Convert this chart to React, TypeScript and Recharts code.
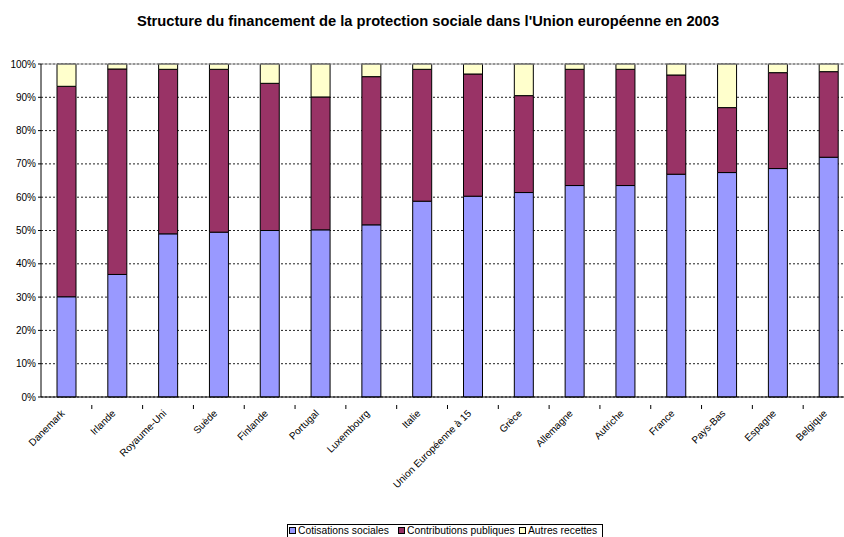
import React from "react";
import { BarChart, Bar, XAxis, YAxis, CartesianGrid, ReferenceLine } from "recharts";

const countries = [
  "Danemark", "Irlande", "Royaume-Uni", "Suède", "Finlande", "Portugal",
  "Luxembourg", "Italie", "Union Européenne à 15", "Grèce", "Allemagne",
  "Autriche", "France", "Pays-Bas", "Espagne", "Belgique",
];
const cotisations = [30.1, 36.8, 49.0, 49.5, 50.0, 50.2, 51.7, 58.8, 60.3, 61.4, 63.5, 63.5, 66.9, 67.4, 68.6, 72.0];
const contributions = [63.2, 61.7, 49.4, 48.9, 44.2, 39.9, 44.5, 39.6, 36.7, 29.1, 34.9, 34.9, 29.8, 19.5, 28.8, 25.7];
const autres = [6.7, 1.5, 1.6, 1.6, 5.8, 9.9, 3.8, 1.6, 3.0, 9.5, 1.6, 1.6, 3.3, 13.1, 2.6, 2.3];
const yTicks = [0, 0.1, 0.2, 0.3, 0.4, 0.5, 0.6, 0.7, 0.8, 0.9, 1];

const series = [
  { key: "cotisations", name: "Cotisations sociales", color: "#9999FF", lx: 289 },
  { key: "contributions", name: "Contributions publiques", color: "#993366", lx: 398 },
  { key: "autres", name: "Autres recettes", color: "#FFFFCC", lx: 519 },
];

const data = countries.map((c, i) => ({
  name: c,
  cotisations: cotisations[i],
  contributions: contributions[i],
  autres: autres[i],
}));

const FONT = "'Liberation Sans', Arial, sans-serif";

function CountryTick(props: any) {
  const { x, y, payload } = props;
  return (
    <g transform={`translate(${x},${y})`}>
      <line x1={25.4} y1={0} x2={25.4} y2={4} stroke="#000" />
      <text
        x={0}
        y={0}
        transform="translate(-1,9) rotate(-45)"
        textAnchor="end"
        fontSize={10}
        fontFamily={FONT}
        fill="#000"
      >
        {payload.value}
      </text>
    </g>
  );
}

export default function App() {
  return (
    <div style={{ position: "absolute", top: 0, left: 0, width: 844, height: 537, overflow: "hidden", background: "#fff" }}>
      <div
        style={{
          position: "absolute",
          top: 13,
          left: 0,
          width: 856,
          textAlign: "center",
          fontFamily: FONT,
          fontWeight: "bold",
          fontSize: 14.7,
        }}
      >
        Structure du financement de la protection sociale dans l'Union européenne en 2003
      </div>
      <BarChart
        width={854}
        height={537}
        data={data}
        stackOffset="expand"
        margin={{ top: 64, right: 0, bottom: 0, left: 0 }}
        barSize={19}
      >
        <CartesianGrid vertical={false} stroke="#222" strokeDasharray="2 2" />
        <ReferenceLine y={1} stroke="#999" />
        <XAxis
          dataKey="name"
          interval={0}
          height={140}
          tick={<CountryTick />}
          tickLine={false}
          axisLine={{ stroke: "#000" }}
        />
        <YAxis
          width={41}
          domain={[0, 1]}
          ticks={yTicks}
          tickFormatter={(v: number) => `${Math.round(v * 100)}%`}
          tick={{ fontSize: 10, fontFamily: FONT, fill: "#000" }}
          tickSize={3}
          tickLine={{ stroke: "#000" }}
          axisLine={{ stroke: "#000" }}
        />
        {series.map((s) => (
          <Bar
            key={s.key}
            dataKey={s.key}
            name={s.name}
            stackId="a"
            fill={s.color}
            stroke="#000"
            strokeWidth={1}
            isAnimationActive={false}
          />
        ))}
      </BarChart>
      <svg
        width={844}
        height={537}
        style={{ position: "absolute", left: 0, top: 0, pointerEvents: "none" }}
      >
        <rect x={287.5} y={524.5} width={315} height={20} fill="#fff" stroke="#000" />
        {series.map((s) => (
          <g key={s.key}>
            <rect x={s.lx + 0.5} y={527.5} width={6} height={6} fill={s.color} stroke="#000" />
            <text x={s.lx + 9} y={534} fontSize={10.3} fontFamily={FONT} fill="#000">
              {s.name}
            </text>
          </g>
        ))}
      </svg>
    </div>
  );
}
